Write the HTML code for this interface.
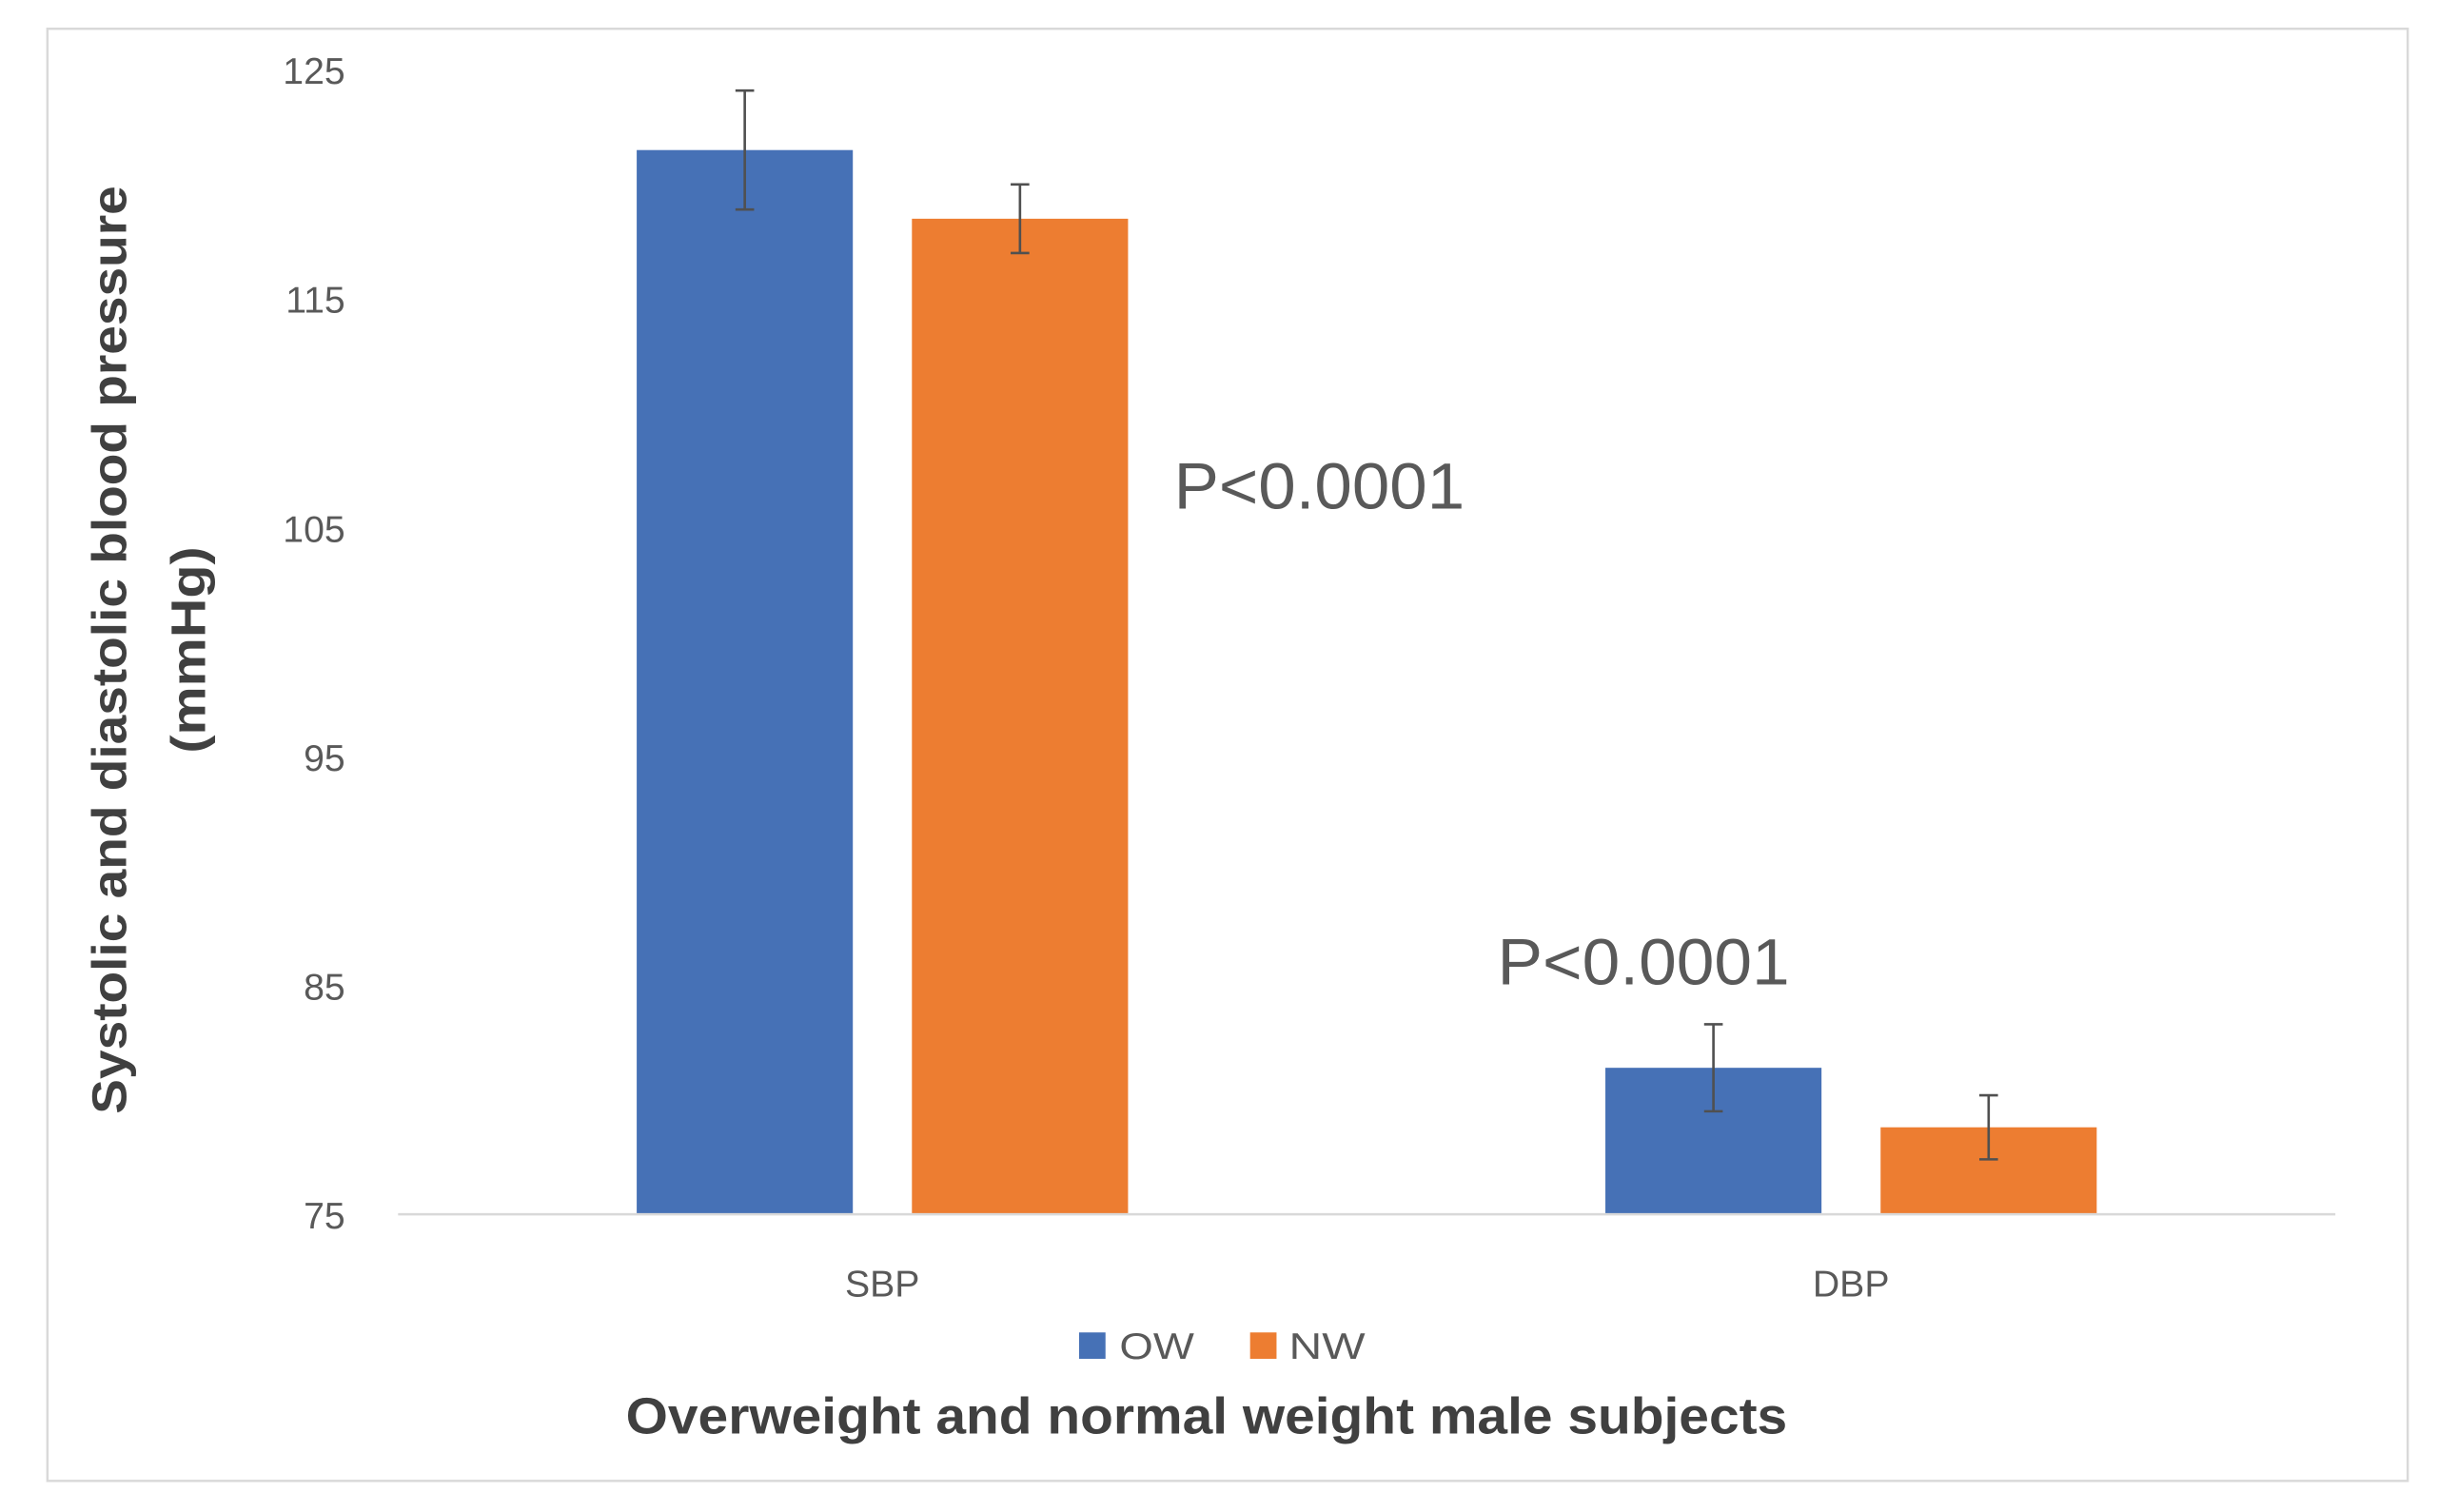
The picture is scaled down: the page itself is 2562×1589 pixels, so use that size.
<!DOCTYPE html>
<html><head><meta charset="utf-8"><style>
html,body{margin:0;padding:0;background:#fff;}
svg{display:block;}
text{font-family:"Liberation Sans",sans-serif;}
</style></head><body>
<svg id="chart" width="2562" height="1589" viewBox="0 0 1568 972.5" preserveAspectRatio="none" xmlns="http://www.w3.org/2000/svg">
<rect x="30.5" y="18.5" width="1518" height="934" fill="#fff" stroke="#d9d9d9" stroke-width="1.5"/>
<g id="grid"></g>
<g id="bars"></g>
<line x1="256" y1="781" x2="1502" y2="781" stroke="#d9d9d9" stroke-width="1.5"/>
<text x="755" y="327" font-size="42" fill="#595959" textLength="187" lengthAdjust="spacingAndGlyphs">P&lt;0.0001</text>
<text x="963" y="633" font-size="42" fill="#595959" textLength="188" lengthAdjust="spacingAndGlyphs">P&lt;0.0001</text>
<rect x="694" y="857" width="17" height="17" fill="#4671b6"/>
<text x="720" y="874" font-size="24" fill="#595959" textLength="48" lengthAdjust="spacingAndGlyphs">OW</text>
<rect x="804" y="857" width="17" height="17" fill="#ed7d31"/>
<text x="829" y="874" font-size="24" fill="#595959" textLength="49" lengthAdjust="spacingAndGlyphs">NW</text>
<text x="776" y="922" text-anchor="middle" font-size="33" font-weight="bold" fill="#404040" textLength="747" lengthAdjust="spacingAndGlyphs">Overweight and normal weight male subjects</text>
<text transform="translate(81,418) rotate(-90)" text-anchor="middle" font-size="31" font-weight="bold" fill="#404040" textLength="597" lengthAdjust="spacingAndGlyphs">Systolic and diastolic blood pressure</text>
<text transform="translate(132,418) rotate(-90)" text-anchor="middle" font-size="31" font-weight="bold" fill="#404040" textLength="133" lengthAdjust="spacingAndGlyphs">(mmHg)</text>
</svg>
<script>
const categories = ["SBP", "DBP"];
const seriesNames = ["OW", "NW"];
const owValues = [121.5, 81.4];
const nwValues = [118.5, 78.8];
const owErrors = [2.6, 1.9];
const nwErrors = [1.5, 1.4];
const yTicks = [75, 85, 95, 105, 115, 125];

const NS = "http://www.w3.org/2000/svg";
const yMin = 75, yMax = 125, yBottom = 781, yTop = 45;
const xLeft = 256, xRight = 1502;
function yScale(v){ return yBottom - (v - yMin) / (yMax - yMin) * (yBottom - yTop); }
const groupW = (xRight - xLeft) / categories.length;
function xCenter(i){ return xLeft + groupW * (i + 0.5); }
const barW = 139, gap = 38;
const colors = ["#4671b6", "#ed7d31"];
const series = [owValues, nwValues];
const errs = [owErrors, nwErrors];

const grid = document.getElementById("grid");
yTicks.forEach(t => {
  const tx = document.createElementNS(NS, "text");
  
  
  tx.setAttribute("x", 222); tx.setAttribute("y", yScale(t) + 9);
  tx.setAttribute("text-anchor", "end"); tx.setAttribute("font-size", "24");
  tx.setAttribute("fill", "#595959");
  tx.textContent = t;
  grid.appendChild(tx);
});

const bars = document.getElementById("bars");
categories.forEach((c, i) => {
  const cx = xCenter(i);
  series.forEach((s, k) => {
    const x = k === 0 ? cx - gap/2 - barW : cx + gap/2;
    const r = document.createElementNS(NS, "rect");
    
    
    r.setAttribute("x", x); r.setAttribute("y", yScale(s[i]));
    r.setAttribute("width", barW); r.setAttribute("height", yBottom - yScale(s[i]));
    r.setAttribute("fill", colors[k]);
    bars.appendChild(r);
    const mx = x + barW/2, y1 = yScale(s[i] + errs[k][i]), y2 = yScale(s[i] - errs[k][i]);
    const g = document.createElementNS(NS, "path");
    
    
    g.setAttribute("d", `M${mx},${y1}V${y2}M${mx-6},${y1}H${mx+6}M${mx-6},${y2}H${mx+6}`);
    g.setAttribute("stroke", "#505050"); g.setAttribute("stroke-width", "1.6"); g.setAttribute("fill", "none");
    bars.appendChild(g);
  });
  const lb = document.createElementNS(NS, "text");
  
  
  lb.setAttribute("x", cx); lb.setAttribute("y", 834);
  lb.setAttribute("text-anchor", "middle"); lb.setAttribute("font-size", "24");
  lb.setAttribute("fill", "#595959");
  lb.textContent = c;
  bars.appendChild(lb);
});
</script>
</body></html>
